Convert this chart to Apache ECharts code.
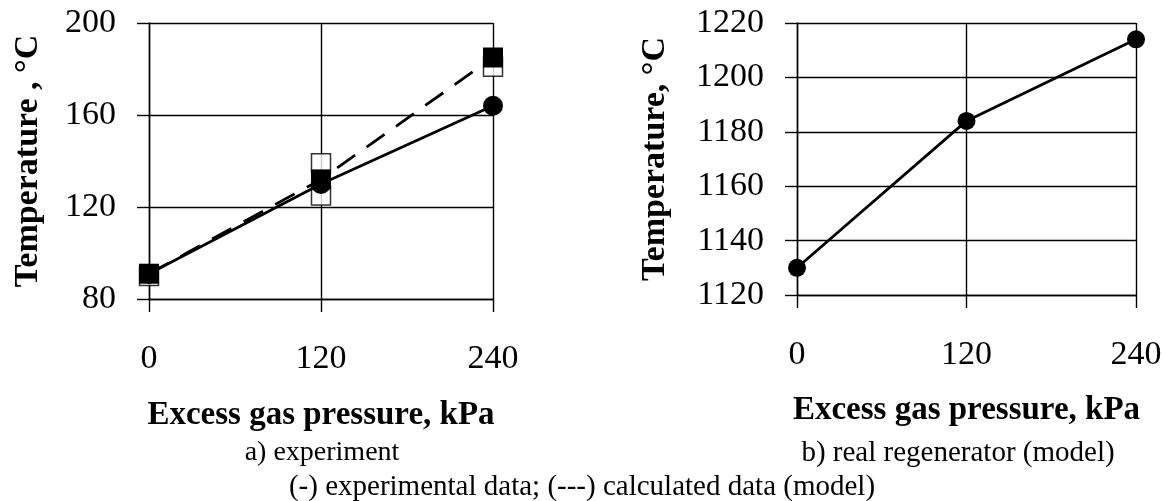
<!DOCTYPE html>
<html>
<head>
<meta charset="utf-8">
<script src="https://cdn.jsdelivr.net/npm/echarts@6/dist/echarts.min.js"></script>
<style>
  html, body { margin: 0; padding: 0; background: #fff; }
  #main { width: 1166px; height: 501px; }
</style>
</head>
<body>
<div id="main"></div>
<script>
// excess gas pressure, kPa
var pressures = [0, 120, 240];

// a) experiment
var expTemps = [91, 130, 164];          // (-) experimental data, circles
var calcTemps = [91, 132, 185];         // (---) calculated data (model), squares
var spreadPressures = [0, 120, 120, 240];
var spreadTemps = [90, 139, 125, 181];  // open squares

// b) real regenerator (model)
var regenTemps = [1130, 1184, 1214];

function pairs(xs, ys) {
    return xs.map(function (x, i) { return [x, ys[i]]; });
}

var chartDom = document.getElementById('main');
var myChart = echarts.init(chartDom);
var option;

var serif = "'Liberation Serif', 'Times New Roman', serif";
var black = '#000';

function xAxisCfg(gridIndex, gap) {
    return {
        type: 'value',
        gridIndex: gridIndex,
        min: 0,
        max: 240,
        interval: 120,
        name: 'Excess gas pressure, kPa',
        nameLocation: 'middle',
        nameGap: gap,
        nameTextStyle: { fontFamily: serif, fontWeight: 'bold', fontSize: 33, color: black },
        axisLine: { show: true, lineStyle: { color: black, width: 1.4 } },
        axisTick: { show: true, length: 13, lineStyle: { color: black, width: 1.4 } },
        axisLabel: { fontFamily: serif, fontSize: 34, color: black, margin: 43,
            formatter: function (v) { return String(v); } },
        splitLine: { show: true, lineStyle: { color: black, width: 1.4 } }
    };
}

function yAxisCfg(gridIndex, min, max, interval, name, gap) {
    return {
        type: 'value',
        gridIndex: gridIndex,
        min: min,
        max: max,
        interval: interval,
        name: name,
        nameLocation: 'middle',
        nameGap: gap,
        nameRotate: 90,
        nameTextStyle: { fontFamily: serif, fontWeight: 'bold', fontSize: 34, color: black },
        axisLine: { show: true, lineStyle: { color: black, width: 1.4 } },
        axisTick: { show: true, length: 12, lineStyle: { color: black, width: 1.4 } },
        axisLabel: { fontFamily: serif, fontSize: 34, color: black, margin: 33,
            formatter: function (v) { return String(v); } },
        splitLine: { show: true, lineStyle: { color: black, width: 1.4 } }
    };
}

option = {
    backgroundColor: '#fff',
    animation: false,
    grid: [
        { left: 149, right: 673, top: 23, bottom: 202 },
        { left: 797, right: 30, top: 23, bottom: 206 }
    ],
    xAxis: [xAxisCfg(0, 100), xAxisCfg(1, 99)],
    yAxis: [
        yAxisCfg(0, 80, 200, 40, 'Temperature , \u00b0C', 104),
        yAxisCfg(1, 1120, 1220, 20, 'Temperature, \u00b0C', 125)
    ],
    graphic: [
        {
            type: 'text',
            x: 322, y: 453,
            style: { text: 'a) experiment', font: '28px ' + serif, fill: black, align: 'center', verticalAlign: 'middle' }
        },
        {
            type: 'text',
            x: 958, y: 453,
            style: { text: 'b) real regenerator (model)', font: '29px ' + serif, fill: black, align: 'center', verticalAlign: 'middle' }
        },
        {
            type: 'text',
            x: 582, y: 487,
            style: { text: '(-) experimental data; (---) calculated data (model)', font: '29px ' + serif, fill: black, align: 'center', verticalAlign: 'middle' }
        }
    ],
    series: [
        {
            name: 'spread',
            type: 'scatter',
            xAxisIndex: 0, yAxisIndex: 0,
            symbol: 'rect',
            symbolSize: 19,
            itemStyle: { color: '#fff', borderColor: black, borderWidth: 1.5 },
            data: pairs(spreadPressures, spreadTemps),
            z: 2
        },
        {
            name: 'Calculated data (model)',
            type: 'line',
            xAxisIndex: 0, yAxisIndex: 0,
            symbol: 'rect',
            symbolSize: 20,
            itemStyle: { color: black },
            lineStyle: { color: black, width: 2.8, type: [22, 14] },
            data: pairs(pressures, calcTemps),
            z: 3
        },
        {
            name: 'Experimental data',
            type: 'line',
            xAxisIndex: 0, yAxisIndex: 0,
            symbol: 'circle',
            symbolSize: 20,
            itemStyle: { color: black },
            lineStyle: { color: black, width: 2.8 },
            data: pairs(pressures, expTemps),
            z: 4
        },
        {
            name: 'Real regenerator (model)',
            type: 'line',
            xAxisIndex: 1, yAxisIndex: 1,
            symbol: 'circle',
            symbolSize: 18,
            itemStyle: { color: black },
            lineStyle: { color: black, width: 2.8 },
            data: pairs(pressures, regenTemps),
            z: 4
        }
    ]
};

option && myChart.setOption(option);
</script>
</body>
</html>
